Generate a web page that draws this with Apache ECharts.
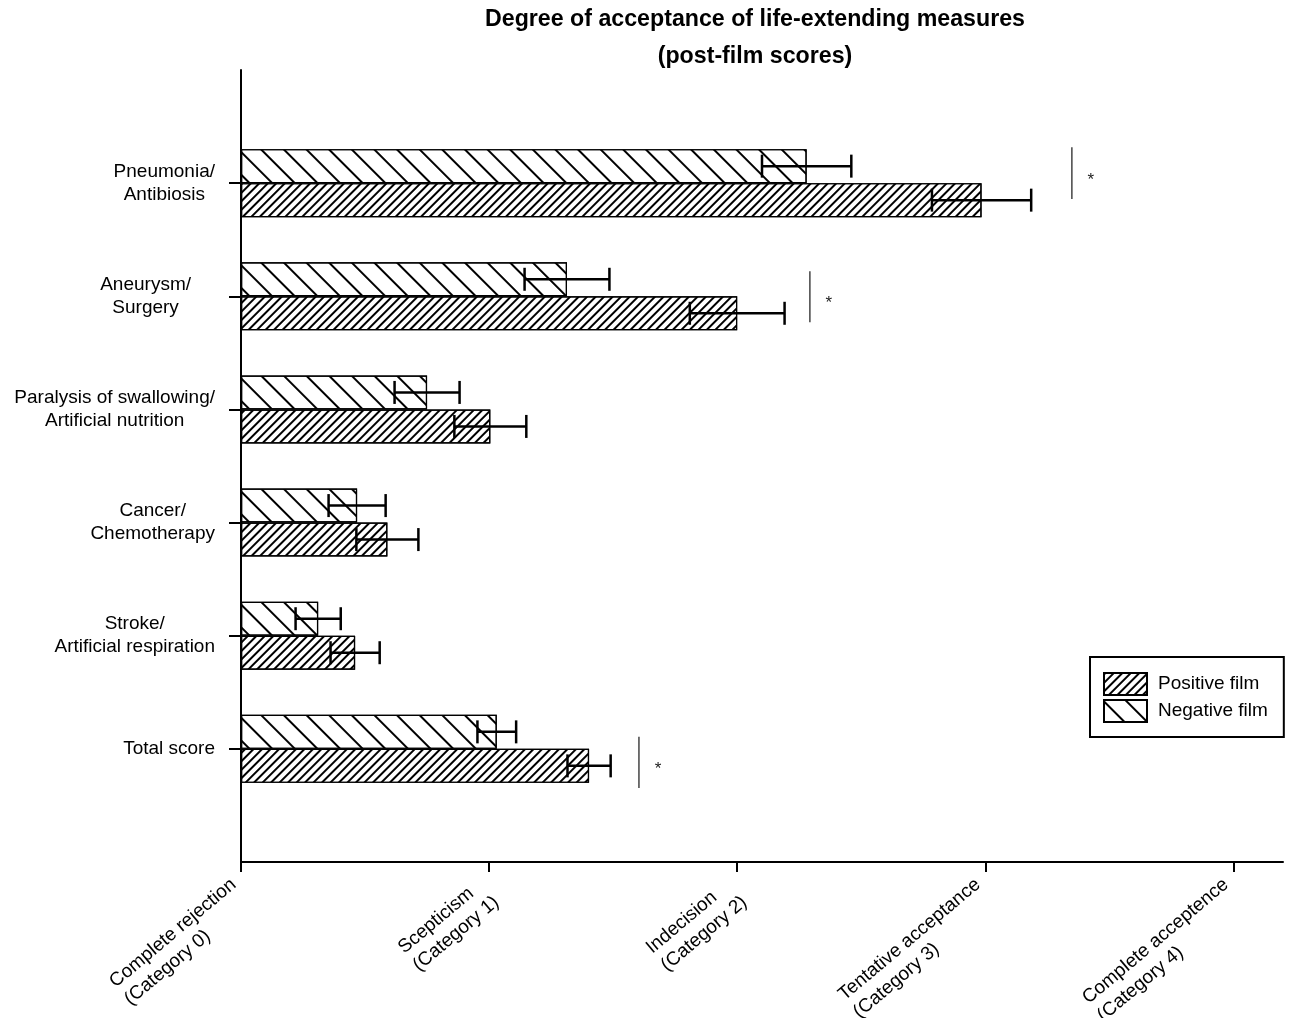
<!DOCTYPE html>
<html><head><meta charset="utf-8">
<script src="https://cdn.jsdelivr.net/npm/echarts@6/dist/echarts.min.js"></script>
<style>html,body{margin:0;padding:0;background:#fff}#c{width:1290px;height:1018px}</style>
</head><body><div id="c"></div>
<script>
// ---- data (categories listed top to bottom) ----
const categories = [
  'Pneumonia/\nAntibiosis',
  'Aneurysm/\nSurgery',
  'Paralysis of swallowing/\nArtificial nutrition',
  'Cancer/\nChemotherapy',
  'Stroke/\nArtificial respiration',
  'Total score'
];
const positiveMean = [2.985, 2.00, 1.005, 0.59, 0.46, 1.403];
const positiveErr  = [0.200, 0.191, 0.145, 0.125, 0.099, 0.087];
const negativeMean = [2.28, 1.314, 0.75, 0.468, 0.311, 1.031];
const negativeErr  = [0.180, 0.171, 0.131, 0.115, 0.091, 0.078];
const tickValues = [0, 1, 2, 3, 4];
const tickLabels = [
  'Complete rejection\n(Category 0)',
  'Scepticism\n(Category 1)',
  'Indecision\n(Category 2)',
  'Tentative acceptance\n(Category 3)',
  'Complete acceptence\n(Category 4)'
];
// significance markers: category, x position, vertical extent (category units from centre)
const sigCategories = ['Pneumonia/\nAntibiosis', 'Aneurysm/\nSurgery', 'Total score'];
const sigX      = [3.349, 2.293, 1.604];
const sigTop    = [0.318, 0.221, 0.106];
const sigBottom = [-0.141, -0.230, -0.345];
const sigLabel = '*';

// ---- build ----
const FONT = "'Liberation Sans', Arial, sans-serif";
const n = categories.length;
const yIndex = i => n - i;               // axis index (0 and n+1 are empty slots)
const axisData = [''].concat(categories.slice().reverse()).concat(['']);
const yAxisData = axisData.map(c => c === 'Aneurysm/\nSurgery'
  ? { value: c, textStyle: { padding: [0, 24, 0, 0] } } : c);

function errRender(offset) {
  return function (params, api) {
    const m = api.value(0), y = api.value(1), e = api.value(2);
    const p0 = api.coord([m - e, y]), p1 = api.coord([m + e, y]);
    const yy = p0[1] + offset, h = 11.5;
    const st = { stroke: '#000', lineWidth: 2.5 };
    return { type: 'group', children: [
      { type: 'line', shape: { x1: p0[0], y1: yy, x2: p1[0], y2: yy }, style: st },
      { type: 'line', shape: { x1: p0[0], y1: yy - h, x2: p0[0], y2: yy + h }, style: st },
      { type: 'line', shape: { x1: p1[0], y1: yy - h, x2: p1[0], y2: yy + h }, style: st }
    ]};
  };
}

const posDecal = { symbol: 'rect', symbolSize: 1, dashArrayX: [1, 0], dashArrayY: [1.5, 3.5], rotation: -Math.PI / 4, color: '#000' };
const negDecal = { symbol: 'rect', symbolSize: 1, dashArrayX: [1, 0], dashArrayY: [1.6, 13.7], rotation: Math.PI / 4, color: '#000' };

const chart = echarts.init(document.getElementById('c'), null, { renderer: 'canvas' });
chart.setOption({
  animation: false,
  backgroundColor: '#fff',
  textStyle: { fontFamily: FONT, color: '#000' },
  graphic: [{
    type: 'text', x: 755, y: 1,
    style: { text: 'Degree of acceptance of life-extending measures\n(post-film scores)',
      x: 0, y: 0, textAlign: 'center', textVerticalAlign: 'top',
      font: 'bold 23.2px ' + FONT, lineHeight: 37, fill: '#000' }
  }],
  legend: {
    data: ['Positive film', 'Negative film'],
    orient: 'vertical', left: 1090, top: 657,
    padding: [15, 16, 14, 13], itemWidth: 43, itemHeight: 22, itemGap: 3,
    borderColor: '#000', borderWidth: 2, icon: 'rect',
    textStyle: { fontSize: 19, color: '#000', fontFamily: FONT, padding: [0, 0, 0, 6] }
  },
  grid: { left: 241, right: 7, top: 70, bottom: 156, containLabel: false, outerBoundsMode: 'none' },
  xAxis: {
    type: 'value', min: 0, max: 4.2, interval: 1,
    axisLine: { show: true, lineStyle: { color: '#000', width: 2 } },
    axisTick: { show: true, length: 10, lineStyle: { color: '#000', width: 2 }, customValues: tickValues },
    splitLine: { show: false },
    axisLabel: {
      customValues: tickValues, rotate: 40, margin: 29,
      formatter: v => {
        const k = tickValues.indexOf(v);
        return k < 0 ? '' : tickLabels[k].split('\n').map(s => '{l|' + s + '}').join('\n');
      },
      rich: { l: { align: 'left', fontSize: 19, lineHeight: 23, fontFamily: FONT, color: '#000' } }
    }
  },
  yAxis: [{
    type: 'category', data: yAxisData, boundaryGap: false,
    axisLine: { show: true, lineStyle: { color: '#000', width: 2 } },
    axisTick: { show: true, length: 12, lineStyle: { color: '#000', width: 2 },
      interval: (idx, val) => val !== '' },
    splitLine: { show: false },
    axisLabel: {
      interval: 0, margin: 26,
      formatter: v => v === '' ? '' : v.split('\n').map(s => '{c|' + s + '}').join('\n'),
      rich: { c: { align: 'center', fontSize: 19, lineHeight: 23, fontFamily: FONT, color: '#000' } }
    }
  }, {
    type: 'value', min: 0, max: n + 1, show: false
  }],
  series: [{
    name: 'Negative film', type: 'bar', barWidth: 34, barGap: '0%',
    data: negativeMean.map((v, i) => [v, yIndex(i)]),
    itemStyle: { color: '#fff', borderColor: '#000', borderWidth: 1.2, decal: negDecal }
  }, {
    name: 'Positive film', type: 'bar', barWidth: 34, barGap: '0%',
    data: positiveMean.map((v, i) => [v, yIndex(i)]),
    itemStyle: { color: '#fff', borderColor: '#000', borderWidth: 1.2, decal: posDecal }
  }, {
    type: 'custom', yAxisIndex: 1, z: 5,
    renderItem: errRender(17),
    encode: { x: 0, y: 1 },
    data: positiveMean.map((v, i) => [v, yIndex(i), positiveErr[i]])
  }, {
    type: 'custom', yAxisIndex: 1, z: 5,
    renderItem: errRender(-17),
    encode: { x: 0, y: 1 },
    data: negativeMean.map((v, i) => [v, yIndex(i), negativeErr[i]])
  }, {
    type: 'custom', yAxisIndex: 1, z: 5,
    encode: { x: 0, y: 1 },
    data: sigCategories.map((c, k) => [sigX[k], yIndex(categories.indexOf(c)), sigTop[k], sigBottom[k]]),
    renderItem: (params, api) => {
      const x = api.value(0), y = api.value(1);
      const pt = api.coord([x, y + api.value(2)]), pb = api.coord([x, y + api.value(3)]);
      const mid = (pt[1] + pb[1]) / 2;
      return { type: 'group', children: [
        { type: 'line', shape: { x1: pt[0], y1: pt[1], x2: pb[0], y2: pb[1] }, style: { stroke: '#444', lineWidth: 1.5 } },
        { type: 'text', x: pt[0] + 19, y: mid + 7,
          style: { text: sigLabel, textAlign: 'center', textVerticalAlign: 'middle', font: '17px ' + FONT, fill: '#222' } }
      ]};
    }
  }]
});
</script></body></html>
